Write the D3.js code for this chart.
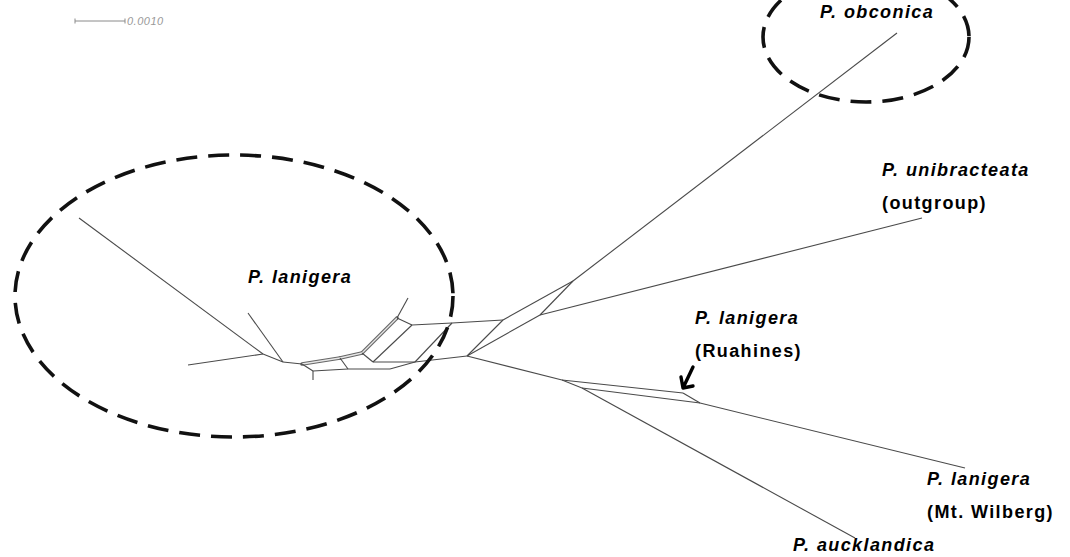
<!DOCTYPE html>
<html>
<head>
<meta charset="utf-8">
<script src="https://cdn.jsdelivr.net/npm/d3@7"></script>
<style>
  html, body { margin: 0; padding: 0; background: #fff; }
  svg { display: block; }
</style>
</head>
<body>
<svg id="chart" width="1070" height="557"></svg>
<script>
// Split-network layout; coordinates in units of 0.0001 substitutions/site.
const nodeIds = ["hub","hubL","a","b","c","d","e","f","g","stub","h","tip1","i","j","k",
                 "m","n","obconica","unibracteata","p","q","r","s","wilberg","auck",
                 "L1","L2","tipA","tipB","tipC"];
const nodeX = [93.4, 83.0, 74.6, 78.0, 69.6, 68.0, 72.4, 60.4, 62.6, 62.6, 79.4, 81.6, 82.4, 90.4, 100.6,
               108.0, 114.6, 179.4, 184.4, 112.4, 116.4, 136.6, 140.0, 193.0, 171.0,
               56.6, 52.6, 15.8, 49.6, 37.6];
const nodeY = [71.2, 72.4, 72.4, 73.8, 73.8, 71.6, 70.6, 72.8, 74.2, 76.0, 63.6, 59.6, 65.0, 64.6, 64.0,
               63.0, 56.2, 6.6, 43.6, 76.0, 77.6, 78.6, 80.6, 93.6, 107.6,
               72.4, 70.8, 43.6, 62.6, 73.0];

// Single edges of the network
const edgeFrom = ["tipC","tipA","L2","tipB","L1","h","h","e","i","a","f","g","g","d","c","b",
                  "hubL","i","j","hubL","hub","k","hub","m","n","m","hub","p","p","q","r","s","q"];
const edgeTo   = ["L2","L2","L1","L1","f","tip1","i","a","a","hubL","g","stub","c","c","b","hubL",
                  "j","j","k","hub","k","n","m","n","obconica","unibracteata","p","r","q","s","s","wilberg","auck"];

// Bundles of near-identical parallel splits, drawn as double lines
const bundleFrom = ["f","d","e"];
const bundleTo   = ["d","e","h"];

// Taxon labels
const labelLine1 = ["P. obconica","P. unibracteata","P. lanigera","P. lanigera","P. lanigera","P. aucklandica"];
const labelLine2 = ["","(outgroup)","","(Ruahines)","(Mt. Wilberg)",""];
const labelX = [164.0, 176.4, 49.6, 139.0, 185.4, 158.6];
const labelY = [3.6, 35.1, 56.6, 64.8, 97.0, 110.2];

// Clade groupings (dashed ellipses)
const cladeCx = [46.8, 173.2];
const cladeCy = [59.2, 7.4];
const cladeRx = [43.8, 20.6];
const cladeRy = [28.2, 13.0];

// Scale bar
const scaleBarStart = 15.0;
const scaleBarLength = 10.0;   // 0.0010
const scaleBarLabel = "0.0010";

const svg = d3.select("#chart");
const W = 1070, H = 557;
const x = d3.scaleLinear().domain([0, 214]).range([0, W]);
const y = d3.scaleLinear().domain([0, 111.4]).range([0, H]);

const nodes = new Map(nodeIds.map((id, k) => [id, {x: nodeX[k], y: nodeY[k]}]));

// Double-line bundles: dark wide stroke with a light core
const bundles = bundleFrom.map((f, k) => ({s: nodes.get(f), t: nodes.get(bundleTo[k])}));
const bg = svg.append("g");
bg.selectAll("line.outer").data(bundles).join("line")
  .attr("x1", d => x(d.s.x)).attr("y1", d => y(d.s.y))
  .attr("x2", d => x(d.t.x)).attr("y2", d => y(d.t.y))
  .attr("stroke", "#666").attr("stroke-width", 3.6).attr("stroke-linecap", "round");
bg.selectAll("line.inner").data(bundles).join("line")
  .attr("x1", d => x(d.s.x)).attr("y1", d => y(d.s.y))
  .attr("x2", d => x(d.t.x)).attr("y2", d => y(d.t.y))
  .attr("stroke", "#e6e6e6").attr("stroke-width", 1.3);

// Network edges
const edges = edgeFrom.map((f, k) => ({s: nodes.get(f), t: nodes.get(edgeTo[k])}));
svg.append("g").selectAll("line").data(edges).join("line")
  .attr("x1", d => x(d.s.x)).attr("y1", d => y(d.s.y))
  .attr("x2", d => x(d.t.x)).attr("y2", d => y(d.t.y))
  .attr("stroke", "#4a4a4a").attr("stroke-width", 1.1);

// Dashed clade ellipses
const clades = cladeCx.map((cx, k) => ({cx, cy: cladeCy[k], rx: cladeRx[k], ry: cladeRy[k]}));
svg.append("g").selectAll("ellipse").data(clades).join("ellipse")
  .attr("cx", d => x(d.cx)).attr("cy", d => y(d.cy))
  .attr("rx", d => x(d.rx) - x(0)).attr("ry", d => y(d.ry) - y(0))
  .attr("fill", "none").attr("stroke", "#111").attr("stroke-width", 3.6)
  .attr("stroke-dasharray", "21,11");

// Taxon labels
const labels = labelLine1.map((t, k) => ({t1: t, t2: labelLine2[k], x: labelX[k], y: labelY[k]}));
const lg = svg.append("g")
  .attr("font-family", "'Liberation Sans', Arial, sans-serif")
  .attr("font-size", 18).attr("font-weight", "bold").attr("fill", "#000");
lg.selectAll("text.l1").data(labels).join("text")
  .attr("x", d => x(d.x)).attr("y", d => y(d.y))
  .attr("font-style", "italic").attr("letter-spacing", 1.4)
  .text(d => d.t1);
lg.selectAll("text.l2").data(labels.filter(d => d.t2)).join("text")
  .attr("x", d => x(d.x)).attr("y", d => y(d.y) + 33)
  .attr("letter-spacing", 1.4)
  .text(d => d.t2);

// Arrow pointing at the Ruahines split
const arrowTip = nodes.get("r");
const ax = x(arrowTip.x), ay = y(arrowTip.y) - 5;
svg.append("path")
  .attr("d", `M${ax + 10},${ay - 21} L${ax},${ay} M${ax - 2},${ay - 11} L${ax},${ay} L${ax + 10},${ay - 2}`)
  .attr("fill", "none").attr("stroke", "#000").attr("stroke-width", 3.4)
  .attr("stroke-linecap", "round").attr("stroke-linejoin", "round");

// Scale bar
const sb = svg.append("g").attr("stroke", "#8a8a8a").attr("stroke-width", 1);
const sy = y(4.2);
sb.append("line").attr("x1", x(scaleBarStart)).attr("x2", x(scaleBarStart + scaleBarLength))
  .attr("y1", sy).attr("y2", sy);
sb.append("line").attr("x1", x(scaleBarStart)).attr("x2", x(scaleBarStart))
  .attr("y1", sy - 2.5).attr("y2", sy + 2.5);
sb.append("line").attr("x1", x(scaleBarStart + scaleBarLength)).attr("x2", x(scaleBarStart + scaleBarLength))
  .attr("y1", sy - 2.5).attr("y2", sy + 2.5);
svg.append("text")
  .attr("x", x(scaleBarStart + scaleBarLength) + 2).attr("y", sy + 4)
  .attr("font-family", "'Liberation Sans', Arial, sans-serif")
  .attr("font-size", 11).attr("font-style", "italic").attr("fill", "#999")
  .attr("letter-spacing", 0.5)
  .text(scaleBarLabel);
</script>
</body>
</html>
